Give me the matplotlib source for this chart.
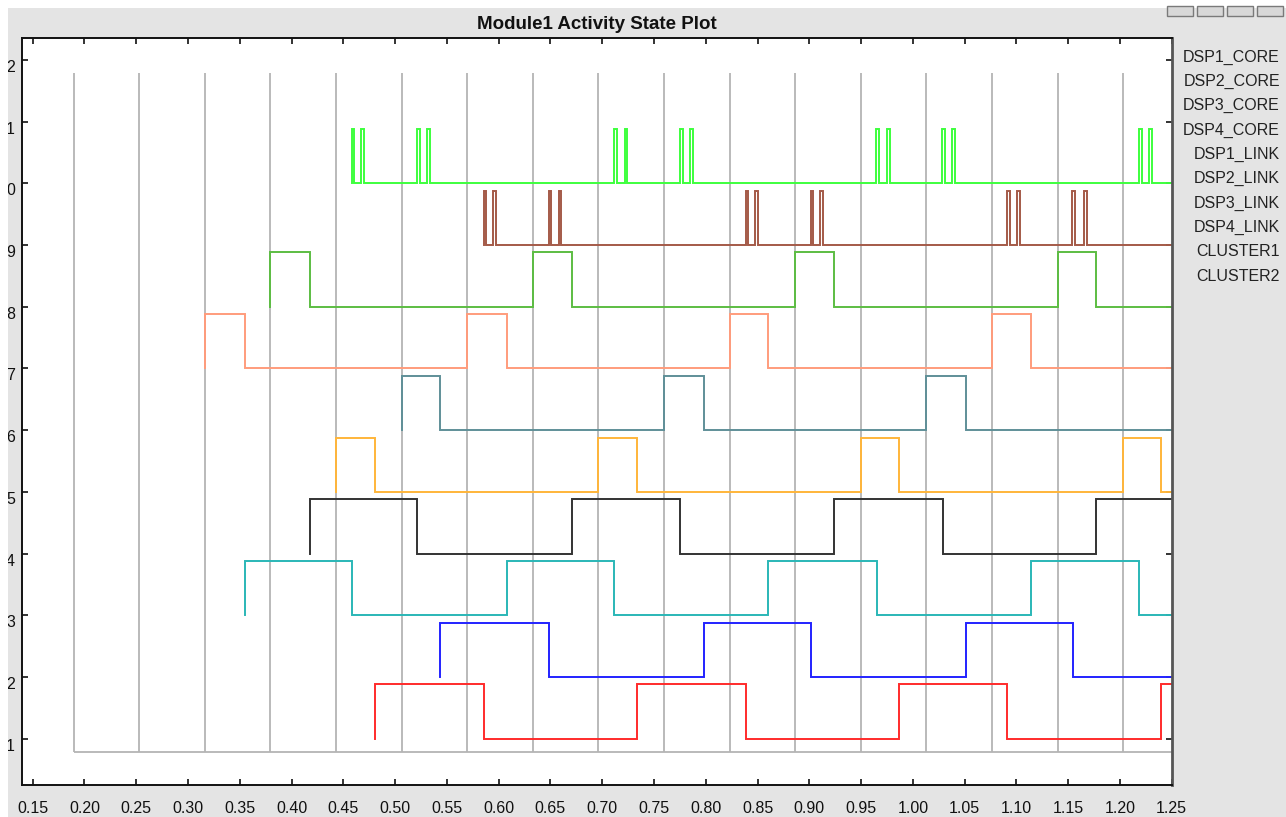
import matplotlib
matplotlib.use("Agg")
import matplotlib.pyplot as plt
import matplotlib.transforms as mtransforms
from matplotlib.patches import Rectangle

plt.rcParams['font.family'] = ['Liberation Sans', 'DejaVu Sans']

# legend names shown on the right
names = ['DSP1_CORE', 'DSP2_CORE', 'DSP3_CORE', 'DSP4_CORE',
         'DSP1_LINK', 'DSP2_LINK', 'DSP3_LINK', 'DSP4_LINK',
         'CLUSTER1', 'CLUSTER2']

# clock lines (grey)
clock_x = [0.1896, 0.2529, 0.3163, 0.3796, 0.4430, 0.5064, 0.5697, 0.6331, 0.6964,
           0.7597, 0.8231, 0.8865, 0.9499, 1.0132, 1.0764, 1.1398, 1.2032]
clock_low = 0.78
clock_high = 11.78

# edges of each trace (first edge = rising from base level)
red_edges = [0.4806, 0.5858, 0.7336, 0.8388, 0.9866, 1.0914, 1.2396]
blue_edges = [0.5438, 0.6486, 0.7983, 0.9016, 1.0513, 1.1546]
cyan_edges = [0.3550, 0.4584, 0.6080, 0.7114, 0.8606, 0.9654, 1.1141, 1.2187]
black_edges = [0.4178, 0.5211, 0.6708, 0.7756, 0.9238, 1.0291, 1.1768]
orange_edges = [0.4430, 0.4806, 0.6964, 0.7336, 0.9499, 0.9866, 1.2032, 1.2396]
slate_edges = [0.5064, 0.5438, 0.7597, 0.7983, 1.0132, 1.0513]
salmon_edges = [0.3163, 0.3550, 0.5697, 0.6080, 0.8231, 0.8606, 1.0764, 1.1141]
green_edges = [0.3796, 0.4178, 0.6332, 0.6708, 0.8865, 0.9238, 1.1398, 1.1768]
brown_edges = [0.5855, 0.5880, 0.5948, 0.5974,
               0.6483, 0.6508, 0.6580, 0.6605,
               0.8386, 0.8411, 0.8478, 0.8504,
               0.9013, 0.9038, 0.9106, 0.9132,
               1.0912, 1.0938, 1.1006, 1.1035,
               1.1539, 1.1565, 1.1650, 1.1679]
lime_edges = [0.4581, 0.4606, 0.4673, 0.4699,
              0.5214, 0.5240, 0.5311, 0.5340,
              0.7111, 0.7140, 0.7217, 0.7242,
              0.7756, 0.7782, 0.7850, 0.7877,
              0.9644, 0.9670, 0.9750, 0.9776,
              1.0284, 1.0310, 1.0381, 1.0407,
              1.2187, 1.2213, 1.2280, 1.2306]

traces = [
    (red_edges, 1, '#ff2b2b'),
    (blue_edges, 2, '#2323ff'),
    (cyan_edges, 3, '#2ab7b7'),
    (black_edges, 4, '#333333'),
    (orange_edges, 5, '#ffb53a'),
    (slate_edges, 6, '#5f8f98'),
    (salmon_edges, 7, '#ff9c7c'),
    (green_edges, 8, '#5cbd42'),
    (brown_edges, 9, '#a45a48'),
    (lime_edges, 10, '#3dff3d'),
]
high_step = 0.88

ytick_vals = [1, 2, 3, 4, 5, 6, 7, 8, 9, 10, 11, 12]
ytick_text = ['1', '2', '3', '4', '5', '6', '7', '8', '9', '0', '1', '2']
xtick_vals = [0.15, 0.20, 0.25, 0.30, 0.35, 0.40, 0.45, 0.50, 0.55, 0.60, 0.65, 0.70,
              0.75, 0.80, 0.85, 0.90, 0.95, 1.00, 1.05, 1.10, 1.15, 1.20, 1.25]
x_end = 1.25


def steps(edges, base):
    xs, ys = [], []
    lvl = base
    for e in edges:
        nxt = base + high_step if lvl == base else base
        xs += [e, e]
        ys += [lvl, nxt]
        lvl = nxt
    xs.append(x_end)
    ys.append(lvl)
    return xs, ys


W, H = 1286, 817
fig = plt.figure(figsize=(W / 100, H / 100), dpi=100, facecolor='#e4e4e4')
# white border on top and left
fig.patches.append(Rectangle((0, 1 - 8 / H), 1, 8 / H, transform=fig.transFigure,
                             facecolor='white', edgecolor='none'))
fig.patches.append(Rectangle((0, 0), 8 / W, 1, transform=fig.transFigure,
                             facecolor='white', edgecolor='none'))

ax = fig.add_axes([22 / W, 1 - 785.3 / H, (1171.7 - 22) / W, (785.3 - 37.7) / H])
ax.set_facecolor('white')
ax.set_xlim(0.1397, 1.25)
ax.set_ylim(0.245, 12.36)

# clock lines
ax.vlines(clock_x, clock_low, clock_high, color='#b4b4b4', lw=1.3, zorder=1)
ax.hlines(clock_low, clock_x[0], x_end, color='#b4b4b4', lw=1.3, zorder=1)

for edges, base, col in traces:
    xs, ys = steps(edges, base)
    ax.plot(xs, ys, color=col, lw=1.4, zorder=2, solid_joinstyle='miter')

ax.set_xticks(xtick_vals)
ax.set_xticklabels(['%.2f' % v for v in xtick_vals])
ax.set_yticks(ytick_vals)
ax.set_yticklabels(ytick_text)
ax.tick_params(direction='in', length=4, width=1.2, labelsize=11.5,
               top=True, right=True, colors='#111111')
ax.tick_params(axis='x', pad=11)
ax.tick_params(axis='y', pad=5)

# labels in the original sit a bit below their ticks
off = mtransforms.ScaledTranslation(0, -6 / 100, fig.dpi_scale_trans)
for lab in ax.get_yticklabels():
    lab.set_transform(lab.get_transform() + off)

for side in ['left', 'bottom', 'top']:
    ax.spines[side].set_color('#111111')
    ax.spines[side].set_linewidth(1.4)
ax.spines['right'].set_color('#555555')
ax.spines['right'].set_linewidth(2)

fig.text(596.5 / W, 1 - 24.5 / H, 'Module1 Activity State Plot', ha='center', va='center',
         fontsize=13.5, fontweight='bold', color='#111111')

# legend names on the right
for i, nm in enumerate(names):
    fig.text(1280 / W, 1 - (57.3 + 24.3 * i) / H, nm, ha='right', va='center',
             fontsize=11.5, color='#222222')

# small toolbar buttons top right
for bx in [1167, 1197, 1227, 1257]:
    fig.patches.append(Rectangle((bx / W, 1 - 16 / H), 26 / W, 10 / H,
                                 transform=fig.transFigure, facecolor='#d8d8d8',
                                 edgecolor='#7a7a7a', lw=1))

fig.savefig('out.png', dpi=100, facecolor=fig.get_facecolor())
